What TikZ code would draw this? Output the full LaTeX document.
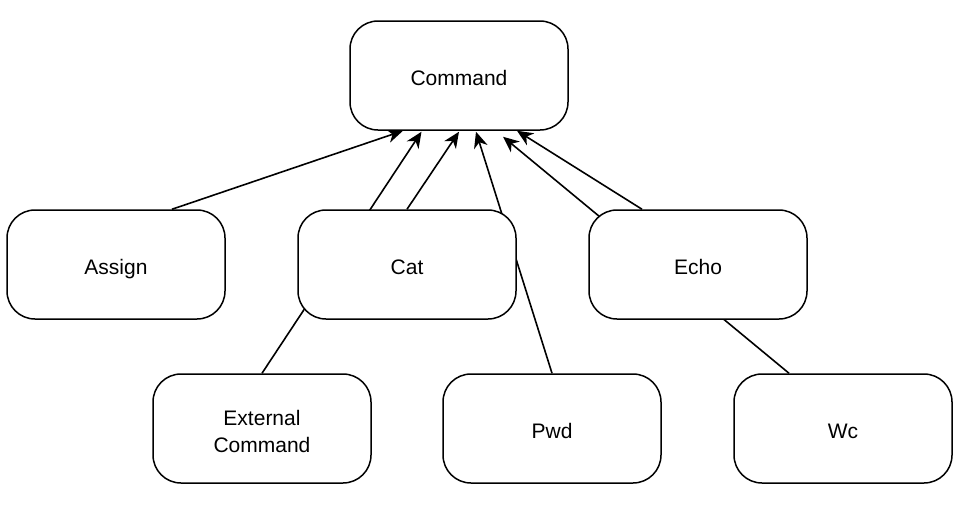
\documentclass[tikz,border=0pt]{standalone}
\usepackage{fontspec}
\setmainfont{Liberation Sans}
\usetikzlibrary{arrows.meta,calc,backgrounds}
\tikzset{
  box/.style={draw=black, line width=1.5pt, fill=white, rounded corners=28pt,
    minimum width=218pt, minimum height=109pt, inner sep=0pt, align=center,
    font=\fontsize{21pt}{27pt}\selectfont, text height=20pt, text depth=0pt},
  link/.style={draw=black, line width=1.6pt,
    -{Stealth[length=16pt,width=14pt,inset=5pt]}}
}
\begin{document}
\begin{tikzpicture}[x=1pt,y=-1pt]
\useasboundingbox (0,0) rectangle (966,515);
\node[box] (cmd) at (459,75.5) {Command};
\node[box] (assign) at (116,264.5) {Assign};
\node[box] (cat) at (407,264.5) {Cat};
\node[box] (echo) at (698,264.5) {Echo};
\node[box, text height=47pt] (ext) at (262,428.5) {External\\Command};
\node[box] (pwd) at (552,428.5) {Pwd};
\node[box] (wc) at (843,428.5) {Wc};
\begin{scope}[on background layer]
\fill[white] (0,0) rectangle (966,515);
\draw[link] ($(assign.north)+(56pt,0pt)$) -- ($(cmd.south)+(-56pt,0pt)$);
\draw[link] (ext.north) -- ($(cmd.south)+(-37.5pt,-1pt)$);
\draw[link] (cat.north) -- ($(cmd.south)+(0pt,-1pt)$);
\draw[link] (pwd.north) -- ($(cmd.south)+(17pt,-1pt)$);
\draw[link] ($(wc.north)+(-54pt,0pt)$) -- ($(cmd.south)+(44pt,-6pt)$);
\draw[link] ($(echo.north)+(-56pt,0pt)$) -- ($(cmd.south)+(58pt,0pt)$);
\end{scope}
\end{tikzpicture}
\end{document}
